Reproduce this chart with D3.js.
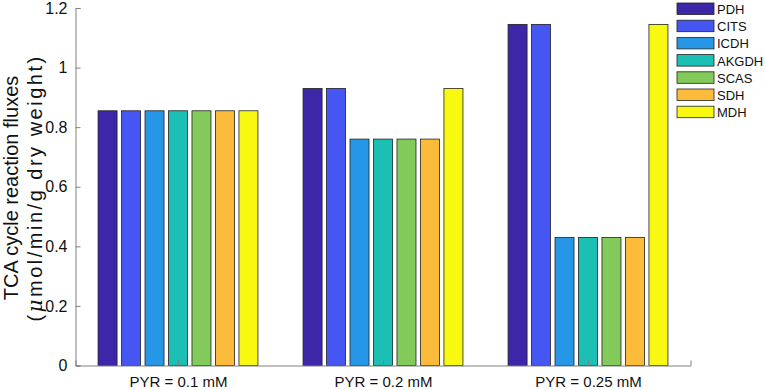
<!DOCTYPE html>
<html>
<head>
<meta charset="utf-8">
<script src="https://cdn.jsdelivr.net/npm/d3@7"></script>
<style>
  body { margin: 0; background: #fff; }
  text { font-family: "Liberation Sans", Arial, sans-serif; }
</style>
</head>
<body>
<div id="chart"></div>
<script>
// conditions on the x axis
const conditions = ["PYR = 0.1 mM", "PYR = 0.2 mM", "PYR = 0.25 mM"];
// reactions, one bar per reaction in each group
const reactions = ["PDH", "CITS", "ICDH", "AKGDH", "SCAS", "SDH", "MDH"];
const reactionColors = ["#3d26a8", "#4556f2", "#2696e6", "#1bbfb4", "#82ca5a", "#fcbb3b", "#f8f811"];
// fluxes per condition, in reaction order
const fluxes = [
    [0.855, 0.855, 0.855, 0.855, 0.855, 0.855, 0.855],
    [0.93, 0.93, 0.76, 0.76, 0.76, 0.76, 0.93],
    [1.145, 1.145, 0.43, 0.43, 0.43, 0.43, 1.145]
];
const yTicks = [0, 0.2, 0.4, 0.6, 0.8, 1, 1.2];

const width = 765;
const height = 390;
const mLeft = 75.5, mRight = 690.5, mTop = 8, mBottom = 365.5;

const svg = d3.select("#chart")
    .append("svg")
    .attr("width", width)
    .attr("height", height);

// x positions: groups at 1, 2, 3 like matlab's bar()
const xScale = d3.scaleLinear().domain([0.5, 3.5]).range([mLeft, mRight]);
const yScale = d3.scaleLinear().domain([0, 1.2]).range([mBottom, mTop]);
const xInner = d3.scaleBand().domain(reactions).range([-0.39, 0.39]).paddingInner(0.19);
const unit = xScale(1) - xScale(0);

// bars
const groups = svg.append("g").selectAll("g")
    .data(fluxes)
    .enter()
    .append("g");

groups.selectAll("rect")
    .data((row, i) => row.map((v, j) => ({ cond: i + 1, key: reactions[j], value: v, color: reactionColors[j] })))
    .enter()
    .append("rect")
    .attr("x", d => xScale(d.cond + xInner(d.key)))
    .attr("y", d => yScale(d.value))
    .attr("width", xInner.bandwidth() * unit)
    .attr("height", d => yScale(0) - yScale(d.value))
    .attr("fill", d => d.color)
    .attr("stroke", "#222")
    .attr("stroke-width", 0.8);

// axes (inward ticks, no box)
const yAxis = d3.axisLeft(yScale).tickValues(yTicks).tickSize(-5).tickPadding(12)
    .tickFormat(d => d3.format("~g")(d));
const yAxisGroup = svg.append("g")
    .attr("transform", `translate(${mLeft}, 0)`)
    .call(yAxis);
yAxisGroup.select(".domain").attr("stroke", "#808080");
yAxisGroup.selectAll(".tick line").attr("stroke", "#808080");
yAxisGroup.selectAll("text").attr("font-size", 16).attr("fill", "#111").attr("x", -8);

const xAxis = d3.axisBottom(xScale).tickValues([1, 2, 3]).tickSize(-5).tickPadding(13)
    .tickFormat(d => conditions[d - 1]);
const xAxisGroup = svg.append("g")
    .attr("transform", `translate(0, ${mBottom})`)
    .call(xAxis);
xAxisGroup.select(".domain").attr("stroke", "#808080");
xAxisGroup.selectAll(".tick line").attr("stroke", "#808080");
xAxisGroup.selectAll("text").attr("font-size", 15).attr("fill", "#111").attr("y", 11);

// y label, two lines
const yLabel = svg.append("text")
    .attr("transform", `translate(18, 188) rotate(-90)`)
    .attr("text-anchor", "middle")
    .attr("font-size", 20)
    .attr("fill", "#111");
yLabel.append("tspan").attr("x", 0).attr("dy", 0).text("TCA cycle reaction fluxes");
const line2 = yLabel.append("tspan").attr("x", 0).attr("dy", 24).attr("letter-spacing", 2.5);
line2.append("tspan").text("(");
line2.append("tspan").attr("font-style", "italic").attr("font-family", "'DejaVu Serif', serif").text("μ");
line2.append("tspan").text("mol/min/g dry weight)");

// legend
const legend = svg.append("g").attr("transform", "translate(677, 3)");
const items = legend.selectAll("g")
    .data(reactions)
    .enter()
    .append("g")
    .attr("transform", (d, i) => `translate(0, ${i * 17.2})`);
items.append("rect")
    .attr("width", 37)
    .attr("height", 11.5)
    .attr("fill", (d, i) => reactionColors[i])
    .attr("stroke", "#222")
    .attr("stroke-width", 0.8);
items.append("text")
    .attr("x", 40)
    .attr("y", 11)
    .attr("font-size", 13)
    .attr("fill", "#111")
    .text(d => d);
</script>
</body>
</html>
